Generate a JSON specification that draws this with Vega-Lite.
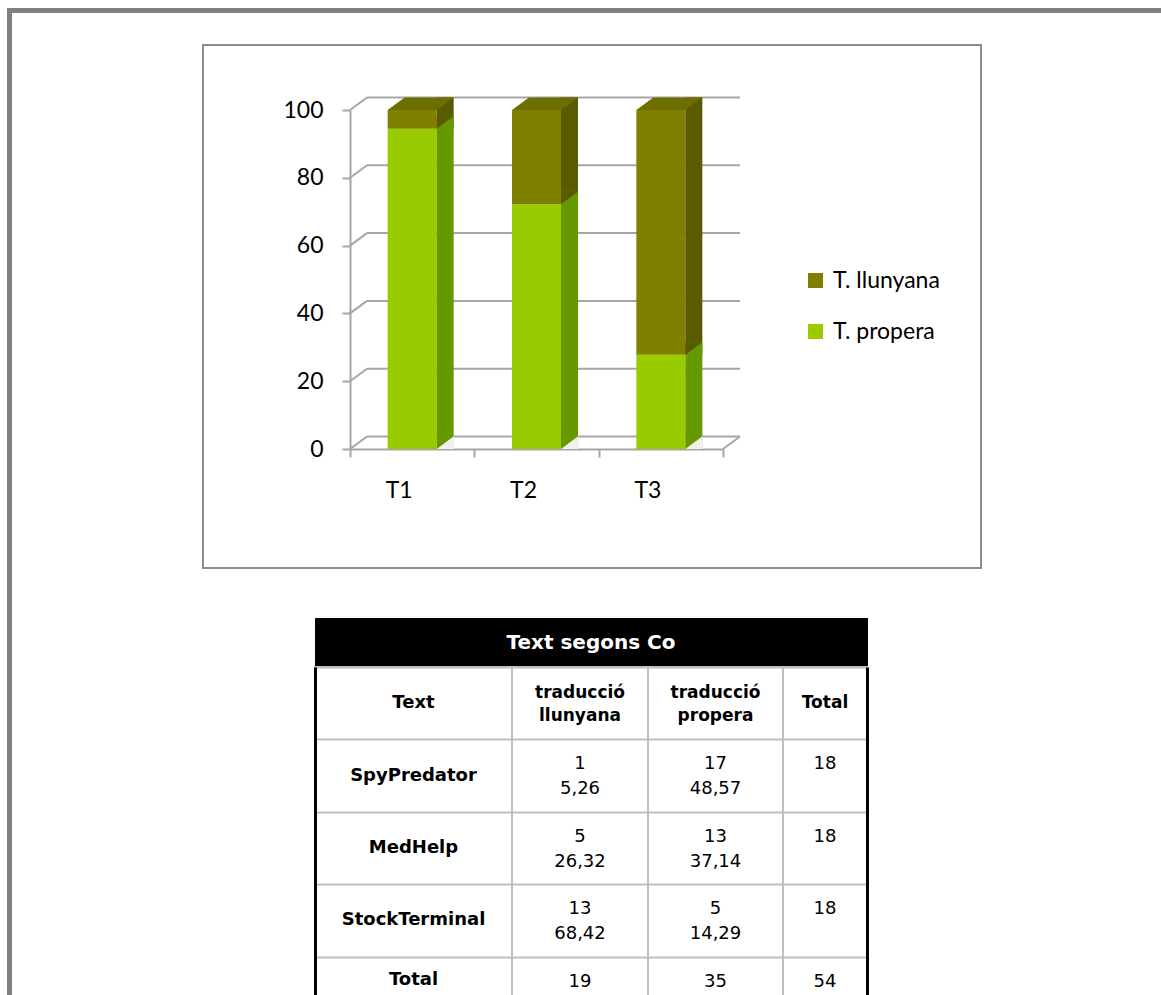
{
  "$schema": "https://vega.github.io/schema/vega-lite/v6.json",
  "padding": {"left": 7, "top": 8, "right": 0, "bottom": 0},
  "background": "white",
  "config": {
    "view": {"stroke": null},
    "font": "Lato"
  },
  "datasets": {
    "barres": [
      {"task": "T1", "tipus": "T. propera", "pct": 94.44},
      {"task": "T1", "tipus": "T. llunyana", "pct": 5.56},
      {"task": "T2", "tipus": "T. propera", "pct": 72.22},
      {"task": "T2", "tipus": "T. llunyana", "pct": 27.78},
      {"task": "T3", "tipus": "T. propera", "pct": 27.78},
      {"task": "T3", "tipus": "T. llunyana", "pct": 72.22}
    ],
    "reixa": [{"v": 0}, {"v": 20}, {"v": 40}, {"v": 60}, {"v": 80}, {"v": 100}],
    "taula": [
      {"fila": "SpyPredator", "ll_n": "1", "ll_p": "5,26", "pr_n": "17", "pr_p": "48,57", "total": "18"},
      {"fila": "MedHelp", "ll_n": "5", "ll_p": "26,32", "pr_n": "13", "pr_p": "37,14", "total": "18"},
      {"fila": "StockTerminal", "ll_n": "13", "ll_p": "68,42", "pr_n": "5", "pr_p": "14,29", "total": "18"},
      {"fila": "Total", "ll_n": "19", "ll_p": "", "pr_n": "35", "pr_p": "", "total": "54"}
    ]
  },
  "spacing": 0,
  "bounds": "flush",
  "vconcat": [
    {
      "width": 1154, "height": 5,
      "view": {"fill": "#808080", "stroke": null},
      "data": {"values": []},
      "mark": "text",
      "encoding": {}
    },
    {
      "spacing": 191,
      "bounds": "flush",
      "hconcat": [
        {
          "width": 5, "height": 982,
          "view": {"fill": "#808080", "stroke": null},
          "data": {"values": []},
          "mark": "text",
          "encoding": {}
        },
        {
          "spacing": 31,
          "bounds": "flush",
          "vconcat": [
            {
              "width": 1, "height": 1,
              "data": {"values": []},
              "mark": "text",
              "encoding": {}
            },
            {
              "spacing": 50,
              "bounds": "flush",
              "vconcat": [
                {
                  "width": 778, "height": 523,
                  "view": {"stroke": "#8c8c8c", "strokeWidth": 2},
                  "data": {"name": "barres"},
                  "layer": [
                    {
                      "data": {"name": "reixa"},
                      "mark": {"type": "rule", "color": "#a6a6a6", "strokeWidth": 2, "xOffset": 17, "x2Offset": 17, "yOffset": -12.5},
                      "encoding": {
                        "x": {"datum": "T1", "type": "nominal", "bandPosition": 0, "scale": {"type": "band", "domain": ["T1", "T2", "T3"], "range": [147, 520], "paddingInner": 0, "paddingOuter": 0}},
                        "x2": {"datum": "T3", "bandPosition": 1},
                        "y": {"field": "v", "type": "quantitative", "title": null, "scale": {"domain": [0, 100], "range": [404, 65], "nice": false}}
                      }
                    },
                    {
                      "data": {"name": "reixa"},
                      "mark": {"type": "rule", "color": "#a6a6a6", "strokeWidth": 2, "x2Offset": 17, "y2Offset": -12.5},
                      "encoding": {
                        "x": {"datum": "T1", "type": "nominal", "bandPosition": 0},
                        "x2": {"datum": "T1", "bandPosition": 0},
                        "y": {"field": "v", "type": "quantitative", "title": null},
                        "y2": {"field": "v"}
                      }
                    },
                    {
                      "data": {"values": [{"v": 0}]},
                      "mark": {"type": "rule", "color": "#a6a6a6", "strokeWidth": 2, "x2Offset": 17, "y2Offset": -12.5},
                      "encoding": {
                        "x": {"datum": "T3", "type": "nominal", "bandPosition": 1},
                        "x2": {"datum": "T3", "bandPosition": 1},
                        "y": {"field": "v", "type": "quantitative", "title": null},
                        "y2": {"field": "v"}
                      }
                    },
                    {
                      "transform": [
                        {"stack": "pct", "groupby": ["task"], "sort": [{"field": "tipus", "order": "descending"}], "as": ["baix", "dalt"]}
                      ],
                      "layer": [
                        {
                          "mark": {"type": "bar", "width": 49},
                          "encoding": {
                            "x": {"field": "task", "type": "nominal", "title": null,
                              "axis": {"orient": "bottom", "offset": -119, "tickBand": "extent", "domainColor": "#a6a6a6", "domainWidth": 2, "tickColor": "#a6a6a6", "tickWidth": 2, "tickSize": 8, "labelFontSize": 23, "labelFont": "Lato", "labelColor": "#000", "labelPadding": 33, "labelAngle": 0}},
                            "y": {"field": "dalt", "type": "quantitative", "title": null,
                              "axis": {"orient": "left", "offset": -147, "values": [0, 20, 40, 60, 80, 100], "grid": false, "domainColor": "#a6a6a6", "domainWidth": 2, "tickColor": "#a6a6a6", "tickWidth": 2, "tickSize": 8, "labelFontSize": 23, "labelFont": "Lato", "labelColor": "#000", "labelPadding": 19}},
                            "y2": {"field": "baix"},
                            "color": {"field": "tipus", "type": "nominal",
                              "scale": {"domain": ["T. llunyana", "T. propera"], "range": ["#808000", "#99cc00"]},
                              "legend": {"orient": "none", "legendX": 797, "legendY": 261, "zindex": 2, "title": null, "symbolType": "square", "symbolSize": 225, "symbolStrokeWidth": 0, "labelFontSize": 23, "labelFont": "Lato", "labelColor": "#000", "labelOffset": 6, "rowPadding": 27}}
                          }
                        },
                        {
                          "transform": [{"filter": "datum.tipus === 'T. llunyana'"}],
                          "mark": {"type": "bar", "width": 17, "xOffset": 33, "yOffset": -12.5, "color": "#5a5a00"},
                          "encoding": {
                            "x": {"field": "task", "type": "nominal", "title": null},
                            "y": {"field": "dalt", "type": "quantitative", "title": null},
                            "y2": {"field": "baix"}
                          }
                        },
                        {
                          "transform": [{"filter": "datum.tipus === 'T. propera'"}],
                          "mark": {"type": "bar", "width": 17, "xOffset": 33, "yOffset": -12.5, "color": "#669900"},
                          "encoding": {
                            "x": {"field": "task", "type": "nominal", "title": null},
                            "y": {"field": "dalt", "type": "quantitative", "title": null},
                            "y2": {"field": "baix"}
                          }
                        },
                        {
                          "transform": [{"filter": "datum.tipus === 'T. propera'"}],
                          "mark": {"type": "point", "shape": "M2.45,-1.25L2.45,0L4.15,-1.25Z", "size": 400, "filled": true, "opacity": 1, "strokeWidth": 0, "color": "#5a5a00"},
                          "encoding": {
                            "x": {"field": "task", "type": "nominal", "title": null},
                            "y": {"field": "dalt", "type": "quantitative", "title": null}
                          }
                        },
                        {
                          "transform": [{"filter": "datum.tipus === 'T. propera'"}],
                          "mark": {"type": "point", "shape": "M2.45,0L4.2,0L4.2,-1.3Z", "size": 400, "filled": true, "opacity": 1, "strokeWidth": 0, "color": "#f0f0f0"},
                          "encoding": {
                            "x": {"field": "task", "type": "nominal", "title": null},
                            "y": {"field": "baix", "type": "quantitative", "title": null}
                          }
                        },
                        {
                          "transform": [{"filter": "datum.tipus === 'T. llunyana'"}],
                          "mark": {"type": "point", "shape": "M-2.45,0L2.45,0L4.15,-1.25L-0.75,-1.25Z", "size": 400, "filled": true, "opacity": 1, "strokeWidth": 0, "color": "#6e6e00"},
                          "encoding": {
                            "x": {"field": "task", "type": "nominal", "title": null},
                            "y": {"field": "dalt", "type": "quantitative", "title": null}
                          }
                        }
                      ]
                    }
                  ]
                },
                {
                  "spacing": 111,
                  "bounds": "flush",
                  "hconcat": [
                    {
                      "width": 1, "height": 1,
                      "data": {"values": []},
                      "mark": "text",
                      "encoding": {}
                    },
                    {
                      "spacing": 0,
                      "bounds": "flush",
                      "vconcat": [
                        {
                          "width": 552, "height": 49,
                          "view": {"fill": "#000000", "stroke": "#000000"},
                          "data": {"values": [{"titol": "Text segons Co"}]},
                          "mark": {"type": "text", "color": "#ffffff", "font": "DejaVu Sans", "fontWeight": "bold", "fontSize": 20, "align": "center", "baseline": "middle"},
                          "encoding": {"text": {"field": "titol"}}
                        },
                        {
                          "spacing": 0,
                          "bounds": "flush",
                          "hconcat": [
                            {
                              "width": 197, "height": 362,
                              "view": {"stroke": "#bfbfbf", "strokeWidth": 2},
                              "layer": [
                                {
                                  "data": {"values": [{"cap": "Text"}]},
                                  "mark": {"type": "text", "font": "DejaVu Sans", "fontWeight": "bold", "fontSize": 18, "align": "center", "baseline": "middle", "color": "#000"},
                                  "encoding": {
                                    "y": {"datum": "Text", "type": "nominal", "scale": {"type": "band", "domain": ["Text", "SpyPredator", "MedHelp", "StockTerminal", "Total"], "paddingInner": 0, "paddingOuter": 0},
                                      "axis": {"orient": "left", "grid": true, "tickBand": "extent", "gridColor": "#bfbfbf", "gridWidth": 2, "labels": false, "ticks": false, "domain": true, "domainColor": "#000", "domainWidth": 3, "title": null, "minExtent": 0, "maxExtent": 0}},
                                    "text": {"field": "cap"}
                                  }
                                },
                                {
                                  "data": {"name": "taula"},
                                  "transform": [{"filter": "datum.fila !== 'Total'"}],
                                  "mark": {"type": "text", "font": "DejaVu Sans", "fontWeight": "bold", "fontSize": 18, "align": "center", "baseline": "middle", "color": "#000"},
                                  "encoding": {
                                    "y": {"field": "fila", "type": "nominal", "title": null},
                                    "text": {"field": "fila"}
                                  }
                                },
                                {
                                  "data": {"name": "taula"},
                                  "transform": [{"filter": "datum.fila === 'Total'"}],
                                  "mark": {"type": "text", "font": "DejaVu Sans", "fontWeight": "bold", "fontSize": 18, "align": "center", "baseline": "middle", "color": "#000", "dy": 23},
                                  "encoding": {
                                    "y": {"field": "fila", "type": "nominal", "bandPosition": 0, "title": null},
                                    "text": {"field": "fila"}
                                  }
                                }
                              ]
                            },
                            {
                              "width": 136, "height": 362,
                              "view": {"stroke": "#bfbfbf", "strokeWidth": 2},
                              "layer": [
                                {
                                  "data": {"values": [{"cap": "traducció\nllunyana"}]},
                                  "mark": {"type": "text", "font": "DejaVu Sans", "fontWeight": "bold", "fontSize": 17, "lineBreak": "\n", "lineHeight": 23, "align": "center", "baseline": "middle", "color": "#000", "dy": -10},
                                  "encoding": {
                                    "y": {"datum": "Text", "type": "nominal", "scale": {"type": "band", "domain": ["Text", "SpyPredator", "MedHelp", "StockTerminal", "Total"], "paddingInner": 0, "paddingOuter": 0},
                                      "axis": {"orient": "left", "grid": true, "tickBand": "extent", "gridColor": "#bfbfbf", "gridWidth": 2, "labels": false, "ticks": false, "domain": false, "title": null, "minExtent": 0, "maxExtent": 0}},
                                    "text": {"field": "cap"}
                                  }
                                },
                                {
                                  "data": {"name": "taula"},
                                  "mark": {"type": "text", "font": "DejaVu Sans", "fontSize": 18, "align": "center", "baseline": "middle", "color": "#000", "dy": 25},
                                  "encoding": {
                                    "y": {"field": "fila", "type": "nominal", "bandPosition": 0, "title": null},
                                    "text": {"field": "ll_n"}
                                  }
                                },
                                {
                                  "data": {"name": "taula"},
                                  "mark": {"type": "text", "font": "DejaVu Sans", "fontSize": 18, "align": "center", "baseline": "middle", "color": "#000", "dy": 50},
                                  "encoding": {
                                    "y": {"field": "fila", "type": "nominal", "bandPosition": 0, "title": null},
                                    "text": {"field": "ll_p"}
                                  }
                                }
                              ]
                            },
                            {
                              "width": 135, "height": 362,
                              "view": {"stroke": "#bfbfbf", "strokeWidth": 2},
                              "layer": [
                                {
                                  "data": {"values": [{"cap": "traducció\npropera"}]},
                                  "mark": {"type": "text", "font": "DejaVu Sans", "fontWeight": "bold", "fontSize": 17, "lineBreak": "\n", "lineHeight": 23, "align": "center", "baseline": "middle", "color": "#000", "dy": -10},
                                  "encoding": {
                                    "y": {"datum": "Text", "type": "nominal", "scale": {"type": "band", "domain": ["Text", "SpyPredator", "MedHelp", "StockTerminal", "Total"], "paddingInner": 0, "paddingOuter": 0},
                                      "axis": {"orient": "left", "grid": true, "tickBand": "extent", "gridColor": "#bfbfbf", "gridWidth": 2, "labels": false, "ticks": false, "domain": false, "title": null, "minExtent": 0, "maxExtent": 0}},
                                    "text": {"field": "cap"}
                                  }
                                },
                                {
                                  "data": {"name": "taula"},
                                  "mark": {"type": "text", "font": "DejaVu Sans", "fontSize": 18, "align": "center", "baseline": "middle", "color": "#000", "dy": 25},
                                  "encoding": {
                                    "y": {"field": "fila", "type": "nominal", "bandPosition": 0, "title": null},
                                    "text": {"field": "pr_n"}
                                  }
                                },
                                {
                                  "data": {"name": "taula"},
                                  "mark": {"type": "text", "font": "DejaVu Sans", "fontSize": 18, "align": "center", "baseline": "middle", "color": "#000", "dy": 50},
                                  "encoding": {
                                    "y": {"field": "fila", "type": "nominal", "bandPosition": 0, "title": null},
                                    "text": {"field": "pr_p"}
                                  }
                                }
                              ]
                            },
                            {
                              "width": 84, "height": 362,
                              "view": {"stroke": "#bfbfbf", "strokeWidth": 2},
                              "layer": [
                                {
                                  "data": {"values": [{"cap": "Total"}]},
                                  "mark": {"type": "text", "font": "DejaVu Sans", "fontWeight": "bold", "fontSize": 17, "align": "center", "baseline": "middle", "color": "#000"},
                                  "encoding": {
                                    "y": {"datum": "Text", "type": "nominal", "scale": {"type": "band", "domain": ["Text", "SpyPredator", "MedHelp", "StockTerminal", "Total"], "paddingInner": 0, "paddingOuter": 0},
                                      "axis": {"orient": "right", "grid": true, "tickBand": "extent", "gridColor": "#bfbfbf", "gridWidth": 2, "labels": false, "ticks": false, "domain": true, "domainColor": "#000", "domainWidth": 3, "title": null, "minExtent": 0, "maxExtent": 0}},
                                    "text": {"field": "cap"}
                                  }
                                },
                                {
                                  "data": {"name": "taula"},
                                  "mark": {"type": "text", "font": "DejaVu Sans", "fontSize": 18, "align": "center", "baseline": "middle", "color": "#000", "dy": 25},
                                  "encoding": {
                                    "y": {"field": "fila", "type": "nominal", "bandPosition": 0, "title": null},
                                    "text": {"field": "total"}
                                  }
                                }
                              ]
                            }
                          ]
                        }
                      ]
                    }
                  ]
                }
              ]
            }
          ]
        }
      ]
    }
  ]
}
